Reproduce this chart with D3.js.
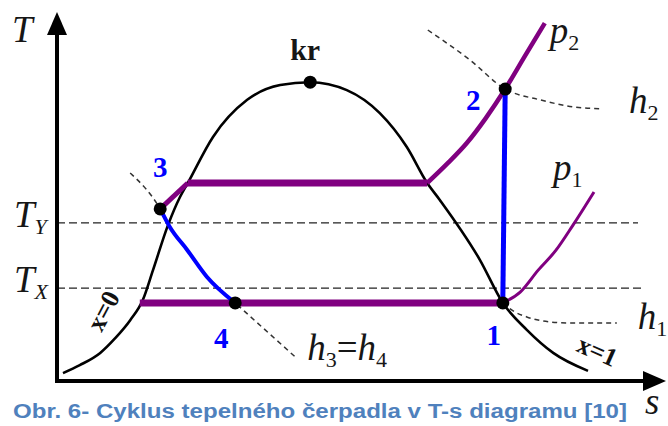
<!DOCTYPE html>
<html>
<head>
<meta charset="UTF-8">
<title>T-s diagram</title>
<style>
  body { margin: 0; background: #fff; }
</style>
<script src="https://cdn.jsdelivr.net/npm/d3@7"></script>
</head>
<body>
<div id="chart"></div>
<script>
// all points are [s, T] in arbitrary units 0..100
const dome = [[1.0,2.2],[3.8,4.4],[7.2,7.8],[9.7,11.9],[12.2,16.9],[14.3,22.5],[16.0,30.8],[18.5,43.3],
  [20.5,51.1],[21.8,55.0],[26.0,67.8],[31.7,78.1],[37.2,82.2],[42.2,83.0],[48.3,80.8],[53.8,74.4],
  [58.3,65.0],[61.7,55.0],[63.8,50.3],[70.5,33.6],[74.3,21.7],[78.3,14.2],[82.7,7.8],[88.5,2.8]];
const kr = [42.2, 83.0];
const pts = { "1": [74.3, 21.7], "2": [74.7, 81.1], "3": [17.2, 47.8], "4": [29.7, 21.7] };
const p2Flat = [[17.2,47.8],[21.8,55.0],[61.7,55.0]];
const p2Curve = [[61.7,55.0],[65.0,60.3],[68.3,66.1],[71.5,73.1],[74.7,81.1],[78.0,90.3],[81.3,99.4]];
const p1Flat = [[13.8,21.7],[74.3,21.7]];
const p1Curve = [[74.3,21.7],[77.2,24.7],[80.2,30.8],[83.2,36.4],[86.0,43.3],[89.5,52.5]];
const throttle = [[17.2,47.8],[18.8,42.8],[21.7,36.4],[25.0,28.9],[29.7,21.7]];
const h34 = [[12.2,57.8],[17.2,47.8],[18.8,42.8],[21.7,36.4],[25.0,28.9],[29.7,21.7],[34.7,14.2],[39.7,6.7]];
const h2 = [[61.8,97.5],[68.8,89.2],[74.7,81.1],[80.5,78.1],[86.3,76.1],[91.0,75.6]];
const h1 = [[74.3,21.7],[76.3,19.2],[78.3,17.8],[82.2,16.4],[86.0,16.1],[93.3,16.1]];
const TY = 43.9, TX = 25.8;

const W = 668, H = 426;
const svg = d3.select("#chart").append("svg").attr("width", W).attr("height", H);
const x = d3.scaleLinear().domain([0, 100]).range([57, 657]);
const y = d3.scaleLinear().domain([0, 100]).range([381, 21]);
const line = d3.line().x(d => x(d[0])).y(d => y(d[1]));
const smooth = d3.line().x(d => x(d[0])).y(d => y(d[1])).curve(d3.curveMonotoneX);
const serif = "Liberation Serif, Times New Roman, serif";

// isotherms T_Y, T_X
svg.selectAll(".iso").data([[TY, 638], [TX, 645]]).enter().append("line")
  .attr("x1", x(0)).attr("x2", d => d[1]).attr("y1", d => y(d[0])).attr("y2", d => y(d[0]))
  .attr("stroke", "#222").attr("stroke-width", 1.3).attr("stroke-dasharray", "8,4");

// enthalpy lines
[h34, h2, h1].forEach(h => {
  svg.append("path").attr("d", smooth(h)).attr("fill", "none")
    .attr("stroke", "#333").attr("stroke-width", 1.5).attr("stroke-dasharray", "5,4");
});

// saturation dome
svg.append("path").attr("d", smooth(dome)).attr("fill", "none").attr("stroke", "#000").attr("stroke-width", 2.6);

// isobars
const purple = "#800080";
svg.append("path").attr("d", line(p2Flat.slice(0, 2))).attr("fill", "none").attr("stroke", purple).attr("stroke-width", 5);
svg.append("path").attr("d", line(p2Flat.slice(1))).attr("fill", "none").attr("stroke", purple).attr("stroke-width", 7);
svg.append("path").attr("d", smooth(p2Curve)).attr("fill", "none").attr("stroke", purple).attr("stroke-width", 4.5);
svg.append("path").attr("d", line(p1Flat)).attr("fill", "none").attr("stroke", purple).attr("stroke-width", 7);
svg.append("path").attr("d", smooth(p1Curve)).attr("fill", "none").attr("stroke", purple).attr("stroke-width", 3);

// compression 1-2 and throttling 3-4
svg.append("path").attr("d", line([pts["1"], pts["2"]])).attr("fill", "none").attr("stroke", "#0000ff").attr("stroke-width", 5);
svg.append("path").attr("d", smooth(throttle)).attr("fill", "none").attr("stroke", "#0000ff").attr("stroke-width", 4);

// dots
svg.selectAll(".dot").data([kr, pts["1"], pts["2"], pts["3"], pts["4"]]).enter().append("circle")
  .attr("cx", d => x(d[0])).attr("cy", d => y(d[1])).attr("r", 6.5).attr("fill", "#000");

// axes
svg.append("line").attr("x1", 57).attr("y1", 383).attr("x2", 57).attr("y2", 30).attr("stroke", "#000").attr("stroke-width", 4);
svg.append("line").attr("x1", 55).attr("y1", 381).attr("x2", 648).attr("y2", 381).attr("stroke", "#000").attr("stroke-width", 4);
svg.append("path").attr("d", "M57,12 L47,35 L67,35 Z").attr("fill", "#000");
svg.append("path").attr("d", "M666,381 L643,371 L643,391 Z").attr("fill", "#000");

// point numbers
const numOff = { "1": [-9, 42], "2": [-32, 21], "3": [0, -32], "4": [-14, 45] };
Object.keys(pts).forEach(k => {
  svg.append("text").attr("font-family", serif).attr("font-weight", "bold").attr("fill", "#0000ff")
    .attr("font-size", 29).attr("text-anchor", "middle")
    .attr("x", x(pts[k][0]) + numOff[k][0]).attr("y", y(pts[k][1]) + numOff[k][1]).text(k);
});

// kr
svg.append("text").attr("font-family", serif).attr("font-weight", "bold")
  .attr("font-size", 30).attr("fill", "#161616").attr("text-anchor", "middle")
  .attr("x", x(kr[0]) - 5).attr("y", y(kr[1]) - 22).text("kr");

// italic labels with subscripts
function label(px, py, main, sub) {
  const t = svg.append("text").attr("font-family", serif).attr("font-style", "italic").attr("fill", "#161616")
    .attr("x", px).attr("y", py).attr("font-size", 37);
  t.append("tspan").text(main);
  if (sub) t.append("tspan").attr("font-size", 22).attr("dy", 7).attr("font-style", sub.it ? "italic" : "normal").text(sub.t);
  return t;
}
label(12, 42, "T");
label(14, 227, "T", { t: "Y", it: true });
label(14, 292, "T", { t: "X", it: true });
const p2e = p2Curve[p2Curve.length - 1], h2e = h2[h2.length - 1], p1e = p1Curve[p1Curve.length - 1], h1e = h1[h1.length - 1], h34e = h34[h34.length - 1];
label(x(p2e[0]) + 5, y(p2e[1]) + 20, "p", { t: "2" });
label(x(h2e[0]) + 26, y(h2e[1]) + 4, "h", { t: "2" });
label(x(p1e[0]) - 41, y(p1e[1]) - 12, "p", { t: "1" });
label(x(h1e[0]) + 21, y(h1e[1]) + 6, "h", { t: "1" });
const h3 = label(x(h34e[0]) + 12, y(h34e[1]) + 3, "h", { t: "3" });
h3.append("tspan").attr("dy", -7).attr("font-style", "normal").text("=");
h3.append("tspan").text("h");
h3.append("tspan").attr("font-size", 22).attr("dy", 7).attr("font-style", "normal").text("4");
label(645, 414, "s");

// quality labels
svg.append("text").attr("font-family", serif).attr("font-weight", "bold").attr("font-size", 26)
  .attr("text-anchor", "middle").attr("transform", "translate(111,315) rotate(-62)").attr("fill", "#111").text("x=0");
svg.append("text").attr("font-family", serif).attr("font-weight", "bold").attr("font-size", 26)
  .attr("text-anchor", "middle").attr("transform", "translate(594,359) rotate(24)").attr("fill", "#111").text("x=1");

// caption
svg.append("text").attr("font-family", "Liberation Sans, Arial, sans-serif").attr("font-weight", "bold")
  .attr("fill", "#4f81bd").attr("x", 13).attr("y", 418).attr("font-size", 20)
  .attr("textLength", 614).attr("lengthAdjust", "spacingAndGlyphs")
  .text("Obr. 6- Cyklus tepelného čerpadla v T-s diagramu [10]");
</script>
</body>
</html>
